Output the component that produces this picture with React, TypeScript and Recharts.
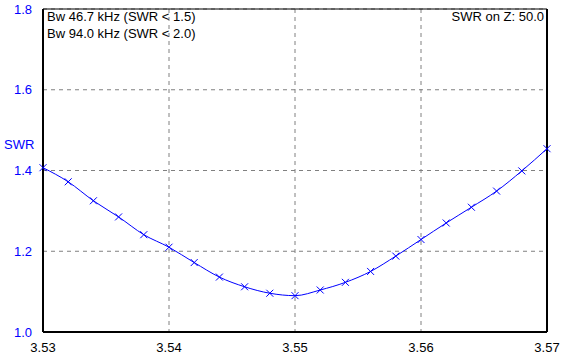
import { CartesianGrid, Line, LineChart, ReferenceLine, XAxis, YAxis } from 'recharts';

const FREQS = [
  3.53, 3.532, 3.534, 3.536, 3.538, 3.54, 3.542, 3.544, 3.546, 3.548, 3.55,
  3.552, 3.554, 3.556, 3.558, 3.56, 3.562, 3.564, 3.566, 3.568, 3.57
];
const SWR = [
  1.407, 1.372, 1.325, 1.285, 1.241, 1.21, 1.172, 1.136, 1.112, 1.096, 1.09,
  1.104, 1.123, 1.15, 1.188, 1.229, 1.27, 1.309, 1.349, 1.399, 1.454
];
const X_TICKS = [3.53, 3.54, 3.55, 3.56, 3.57];
const Y_TICKS = [1.0, 1.2, 1.4, 1.6, 1.8];

const BW_LINES = ['Bw 46.7 kHz (SWR < 1.5)', 'Bw 94.0 kHz (SWR < 2.0)'];
const Z_TEXT = 'SWR on Z: 50.0';

const data = FREQS.map((f, i) => ({ f, swr: SWR[i] }));

const FONT = '"Liberation Sans", Arial, sans-serif';

function CrossDot(props: any) {
  const { cx, cy } = props;
  if (cx == null || cy == null) return null;
  const s = 3.5;
  return (
    <path
      d={`M${cx - s},${cy - s}L${cx + s},${cy + s}M${cx - s},${cy + s}L${cx + s},${cy - s}`}
      stroke="#0000ff"
      strokeWidth={1}
      fill="none"
    />
  );
}

export default function App() {
  return (
    <div style={{ position: 'fixed', left: 0, top: 0, width: 567, height: 360, background: '#fff', fontFamily: FONT }}>
      <LineChart width={567} height={360} data={data} margin={{ top: 9, right: 20, bottom: 0, left: 0 }}>
        <CartesianGrid stroke="#808080" strokeDasharray="4 4" />
        <XAxis
          dataKey="f"
          type="number"
          domain={[3.53, 3.57]}
          ticks={X_TICKS}
          tickFormatter={(v: number) => v.toFixed(2)}
          height={28}
          tickLine={false}
          axisLine={{ stroke: '#000', strokeWidth: 2 }}
          tick={{ fill: '#000', fontSize: 13, fontFamily: FONT }}
          tickMargin={5}
          interval={0}
        />
        <YAxis
          type="number"
          domain={[1.0, 1.8]}
          ticks={Y_TICKS}
          tickFormatter={(v: number) => v.toFixed(1)}
          width={43}
          tickLine={false}
          axisLine={{ stroke: '#000', strokeWidth: 2 }}
          tick={{ fill: '#0000ff', fontSize: 13, fontFamily: FONT }}
          tickMargin={5}
          interval={0}
        />
        <ReferenceLine y={1.8} stroke="#000" strokeWidth={1} />
        <ReferenceLine x={3.57} stroke="#000" strokeWidth={2} />
        <Line
          dataKey="swr"
          type="monotone"
          stroke="#0000ff"
          strokeWidth={1}
          dot={<CrossDot />}
          activeDot={false}
          isAnimationActive={false}
        />
      </LineChart>
      <div style={{ position: 'absolute', left: 47, top: 8, fontSize: 13, lineHeight: '17px', color: '#000' }}>
        {BW_LINES.map((t) => (
          <div key={t}>{t}</div>
        ))}
      </div>
      <div style={{ position: 'absolute', right: 23, top: 8, fontSize: 13, lineHeight: '17px', color: '#000' }}>
        {Z_TEXT}
      </div>
      <div style={{ position: 'absolute', left: 4, top: 137, fontSize: 13, color: '#0000ff' }}>SWR</div>
    </div>
  );
}
